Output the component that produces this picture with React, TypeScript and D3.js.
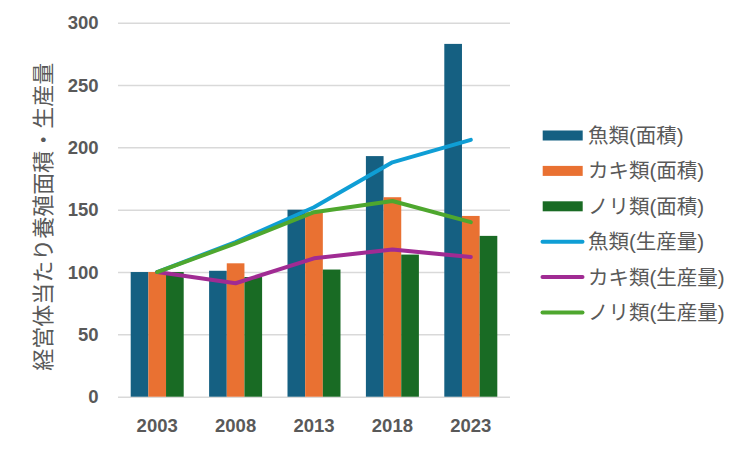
import React, { useRef, useEffect } from "react";
import * as d3 from "d3";

const WIDTH = 750;
const HEIGHT = 449;
const MARGIN = { top: 22.7, right: 240, bottom: 52.3, left: 118 };

const years = ["2003", "2008", "2013", "2018", "2023"];
const yTicks = [0, 50, 100, 150, 200, 250, 300];

// bars (area)
const fishArea = [100, 101, 150, 193, 283];
const oysterArea = [100, 107, 148, 160, 145];
const noriArea = [100, 96, 102, 114, 129];

// lines (production)
const fishProd = [100, 124, 152, 188, 206];
const oysterProd = [100, 91, 111, 118, 112];
const noriProd = [100, 123, 148, 157, 140];

const barSeries = [
  { name: "魚類(面積)", values: fishArea, color: "#156082" },
  { name: "カキ類(面積)", values: oysterArea, color: "#E97132" },
  { name: "ノリ類(面積)", values: noriArea, color: "#196B24" },
];
const lineSeries = [
  { name: "魚類(生産量)", values: fishProd, color: "#0F9ED5" },
  { name: "カキ類(生産量)", values: oysterProd, color: "#A02B93" },
  { name: "ノリ類(生産量)", values: noriProd, color: "#4EA72E" },
];

const FONT = '"Liberation Sans", Arial, "Noto Sans CJK JP", sans-serif';
const TEXT = "#595959";

export default function App() {
  const svgRef = useRef<SVGSVGElement | null>(null);

  useEffect(() => {
    const svg = d3.select(svgRef.current);
    svg.selectAll("*").remove();

    const x = d3
      .scaleBand<string>()
      .domain(years)
      .range([MARGIN.left, WIDTH - MARGIN.right]);
    const y = d3
      .scaleLinear()
      .domain([0, 300])
      .range([HEIGHT - MARGIN.bottom, MARGIN.top]);

    const groupW = x.bandwidth() * 0.676;
    const inner = d3
      .scaleBand<number>()
      .domain(d3.range(barSeries.length))
      .range([0, groupW]);

    // Grid
    svg
      .append("g")
      .attr("class", "grid")
      .attr("transform", `translate(${MARGIN.left},0)`)
      .call(
        d3
          .axisLeft(y)
          .tickValues(yTicks)
          .tickSize(-(WIDTH - MARGIN.left - MARGIN.right))
          .tickFormat(() => "")
      );
    svg.selectAll(".grid line").attr("stroke", "#d9d9d9").attr("stroke-width", 1.5);
    svg.selectAll(".grid path").remove();

    // Y tick labels
    svg
      .append("g")
      .selectAll("text")
      .data(yTicks)
      .enter()
      .append("text")
      .attr("x", 98.5)
      .attr("y", (d) => y(d))
      .attr("dy", "0.36em")
      .attr("text-anchor", "end")
      .attr("font-family", FONT)
      .attr("font-weight", "bold")
      .attr("font-size", 18.5)
      .attr("fill", TEXT)
      .text((d) => d);

    // X labels
    svg
      .append("g")
      .selectAll("text")
      .data(years)
      .enter()
      .append("text")
      .attr("x", (d) => x(d)! + x.bandwidth() / 2)
      .attr("y", 431.5)
      .attr("text-anchor", "middle")
      .attr("font-family", FONT)
      .attr("font-weight", "bold")
      .attr("font-size", 18.5)
      .attr("fill", TEXT)
      .text((d) => d);

    // Y title
    svg
      .append("text")
      .attr("transform", `translate(43,${(MARGIN.top + HEIGHT - MARGIN.bottom) / 2 + 7}) rotate(-90)`)
      .attr("text-anchor", "middle")
      .attr("dominant-baseline", "central")
      .attr("font-family", FONT)
      .attr("font-size", 22)
      .attr("fill", TEXT)
      .text("経営体当たり養殖面積・生産量");

    // Bars
    barSeries.forEach((s, i) => {
      svg
        .append("g")
        .selectAll("rect")
        .data(s.values)
        .enter()
        .append("rect")
        .attr("x", (_, j) => x(years[j])! + (x.bandwidth() - groupW) / 2 + inner(i)!)
        .attr("width", inner.bandwidth())
        .attr("y", (d) => y(d))
        .attr("height", (d) => y(0) - y(d))
        .attr("fill", s.color);
    });

    // Lines
    const line = d3
      .line<number>()
      .x((_, j) => x(years[j])! + x.bandwidth() / 2)
      .y((d) => y(d));
    lineSeries.forEach((s) => {
      svg
        .append("path")
        .datum(s.values)
        .attr("fill", "none")
        .attr("stroke", s.color)
        .attr("stroke-width", 4)
        .attr("stroke-linecap", "round")
        .attr("stroke-linejoin", "round")
        .attr("d", line);
    });

    // Legend
    const legend = svg.append("g");
    const items = [
      ...barSeries.map((s) => ({ ...s, kind: "bar" })),
      ...lineSeries.map((s) => ({ ...s, kind: "line" })),
    ];
    items.forEach((s, i) => {
      const cy = 135.5 + i * 35.4;
      if (s.kind === "bar") {
        legend
          .append("rect")
          .attr("x", 542.7)
          .attr("y", cy - 5)
          .attr("width", 40)
          .attr("height", 10)
          .attr("fill", s.color);
      } else {
        legend
          .append("line")
          .attr("x1", 542.5)
          .attr("x2", 582.5)
          .attr("y1", cy)
          .attr("y2", cy)
          .attr("stroke", s.color)
          .attr("stroke-width", 4)
          .attr("stroke-linecap", "round");
      }
      legend
        .append("text")
        .attr("x", 588)
        .attr("y", cy)
        .attr("dominant-baseline", "central")
        .attr("font-family", FONT)
        .attr("font-size", 20.5)
        .attr("fill", TEXT)
        .text(s.name);
    });
  }, []);

  return (
    <svg
      ref={svgRef}
      width={WIDTH}
      height={HEIGHT}
      style={{ position: "absolute", left: 0, top: 0, background: "#fff" }}
    />
  );
}
